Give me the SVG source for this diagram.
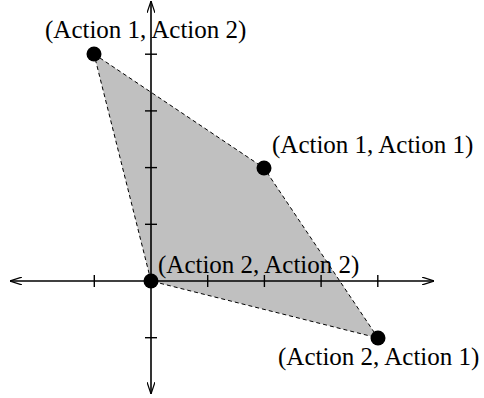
<svg xmlns="http://www.w3.org/2000/svg" width="484" height="398" viewBox="0 0 484 398">
<defs>
<marker id="arr" viewBox="0 0 12 8" refX="12" refY="4" markerWidth="12" markerHeight="8" markerUnits="userSpaceOnUse" orient="auto">
<path d="M0,0 L12,4 L0,8" fill="none" stroke="#000" stroke-width="1.2"/>
</marker>
<style>
.ax{stroke:#000;stroke-width:1.6;fill:none}
.tk{stroke:#000;stroke-width:1.4}
.lbl{font-family:"Liberation Serif","Times New Roman",serif;font-size:25px;fill:#000}
.dot{fill:#000}
</style>
</defs>
<g id="region">
<polygon points="94,54 264,168 378,338 151,281" fill="#c0c0c0" stroke="#000" stroke-width="1" stroke-dasharray="4,3"/>
</g>
<g id="axes">
<line class="ax" x1="151" y1="281" x2="10" y2="281" marker-end="url(#arr)"/>
<line class="ax" x1="151" y1="281" x2="434" y2="281" marker-end="url(#arr)"/>
<line class="ax" x1="151" y1="281" x2="151" y2="1" marker-end="url(#arr)"/>
<line class="ax" x1="151" y1="281" x2="151" y2="394" marker-end="url(#arr)"/>
<g class="tk">
<line x1="94.3" y1="275" x2="94.3" y2="287"/>
<line x1="207.7" y1="275" x2="207.7" y2="287"/>
<line x1="264.4" y1="275" x2="264.4" y2="287"/>
<line x1="321.1" y1="275" x2="321.1" y2="287"/>
<line x1="377.8" y1="275" x2="377.8" y2="287"/>
<line x1="145" y1="54.2" x2="157" y2="54.2"/>
<line x1="145" y1="110.9" x2="157" y2="110.9"/>
<line x1="145" y1="167.6" x2="157" y2="167.6"/>
<line x1="145" y1="224.3" x2="157" y2="224.3"/>
<line x1="145" y1="337.7" x2="157" y2="337.7"/>
</g>
</g>
<g id="p12">
<circle class="dot" cx="94" cy="54" r="7.5"/>
<text class="lbl" x="45" y="38">(Action 1, Action 2)</text>
</g>
<g id="p11">
<circle class="dot" cx="264" cy="168" r="7.5"/>
<text class="lbl" x="272" y="153">(Action 1, Action 1)</text>
</g>
<g id="p22">
<circle class="dot" cx="151" cy="281" r="7.5"/>
<text class="lbl" x="158" y="273">(Action 2, Action 2)</text>
</g>
<g id="p21">
<circle class="dot" cx="378" cy="338" r="7.5"/>
<text class="lbl" x="278" y="365">(Action 2, Action 1)</text>
</g>
</svg>
